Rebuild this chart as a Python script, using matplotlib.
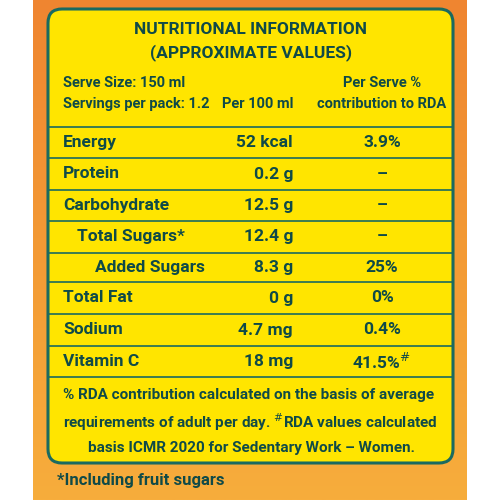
import matplotlib
matplotlib.use("Agg")
import matplotlib.pyplot as plt
from matplotlib.patches import FancyBboxPatch
from matplotlib.colors import LinearSegmentedColormap
import numpy as np

nutrients = ["Energy", "Protein", "Carbohydrate", "Total Sugars*", "Added Sugars",
             "Total Fat", "Sodium", "Vitamin C"]
per100 = ["52 kcal", "0.2 g", "12.5 g", "12.4 g", "8.3 g", "0 g", "4.7 mg", "18 mg"]
rda = ["3.9%", "–", "–", "–", "25%", "0%", "0.4%", "41.5%$^{\\#}$"]
indent = [63, 63, 63, 77, 95, 63, 63, 63]

TXT = "#0f4a48"
YEL = "#ffe500"
FAM = ["Roboto", "DejaVu Sans"]

fig = plt.figure(figsize=(5, 5), dpi=100)
ax = fig.add_axes([0, 0, 1, 1])
ax.set_xlim(0, 500); ax.set_ylim(500, 0); ax.axis("off")

grad = np.linspace(0, 1, 256)[:, None]
cm = LinearSegmentedColormap.from_list("o", ["#ef8530", "#f39a35", "#f7ad3c"])
ax.imshow(grad, extent=[33, 467, 500, 0], cmap=cm, aspect="auto", zorder=0)

box = FancyBboxPatch((48, 9), 405, 454, boxstyle="round,pad=0,rounding_size=14",
                     fc=YEL, ec="#1a6a60", lw=2.2, zorder=1)
ax.add_patch(box)

def t(x, y, s, ha="left", size=13):
    return ax.text(x, y, s, ha=ha, va="center", color=TXT, fontsize=size,
                   family=FAM, fontweight="bold", zorder=3)

t(251, 30, "NUTRITIONAL INFORMATION", "center", 12.5)
t(251, 53, "(APPROXIMATE VALUES)", "center", 12.5)
t(63, 83, "Serve Size: 150 ml", size=10.5)
t(63, 104, "Servings per pack: 1.2", size=10.5)
t(293, 104, "Per 100 ml", "right", 10.5)
t(382, 83, "Per Serve %", "center", 10.5)
t(382, 104, "contribution to RDA", "center", 10.5)

lines = [127, 158, 190, 221, 253, 282, 314, 346, 377]
for y in lines:
    ax.plot([49, 452], [y, y], color="#1a6a60", lw=1.2, zorder=2)

for i, (n, v, r) in enumerate(zip(nutrients, per100, rda)):
    yc = (lines[i] + lines[i + 1]) / 2
    t(indent[i], yc, n, size=12.5)
    t(293, yc, v, "right", 12.5)
    t(382, yc, r, "center", 12.5)

t(63, 395, "% RDA contribution calculated on the basis of average", size=11)
t(63, 422, "requirements of adult per day. $^{\\#}$RDA values calculated", size=11)
t(251, 448, "basis ICMR 2020 for Sedentary Work – Women.", "center", 11)
t(57, 480, "*Including fruit sugars", size=12)

fig.savefig("out.png", dpi=100)
